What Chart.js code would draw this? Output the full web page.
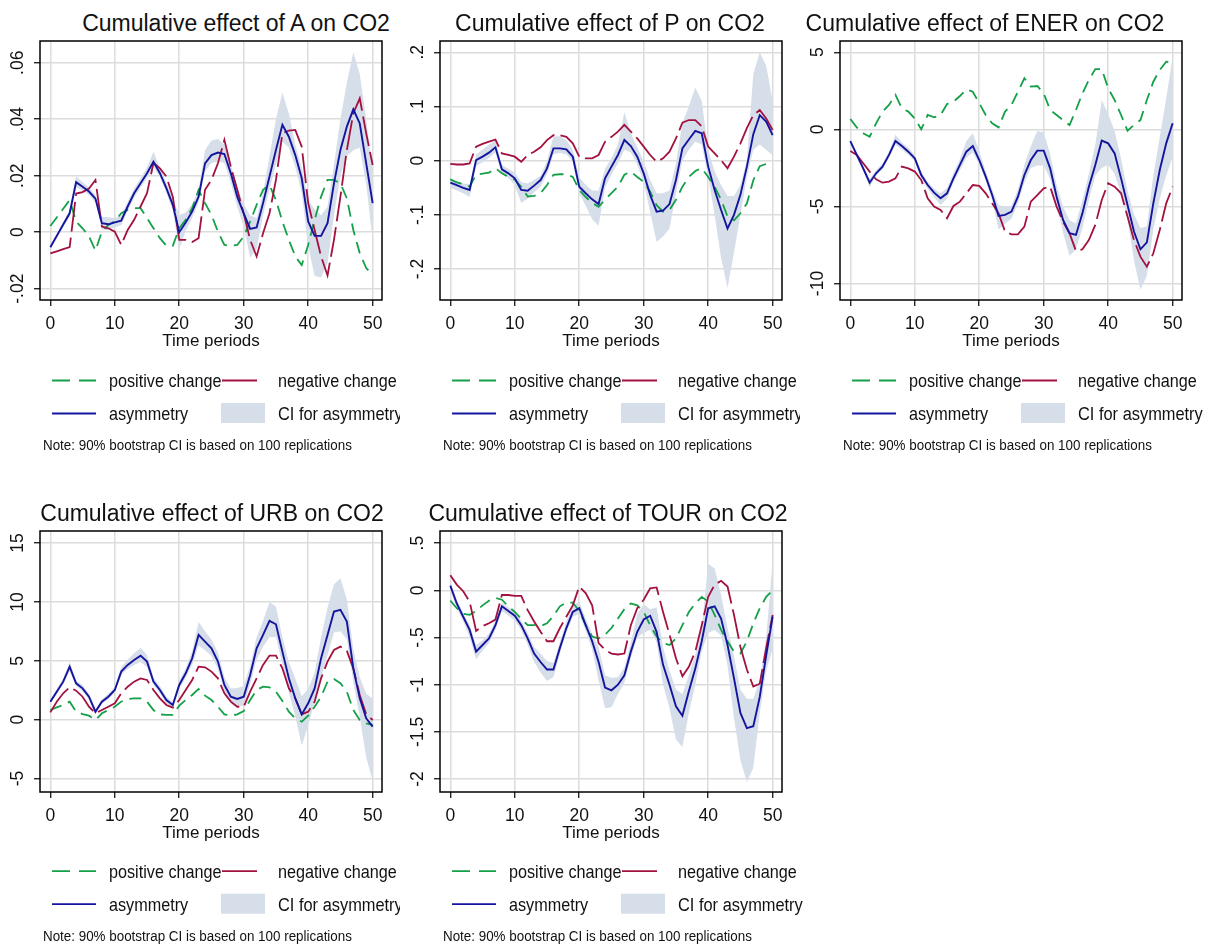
<!DOCTYPE html>
<html>
<head>
<meta charset="utf-8">
<script src="https://cdn.jsdelivr.net/npm/chart.js@4.4.1/dist/chart.umd.min.js"></script>
<style>
  body { margin: 0; background: #fff; width: 1215px; height: 951px; position: relative; overflow: hidden;
         font-family: 'Liberation Sans', Arial, sans-serif; color: #111; }
  .panel { position: absolute; top: 0; height: 951px; }
  .txt { position: absolute; white-space: nowrap; line-height: 1; }
  canvas { position: absolute; }
  svg { position: absolute; left: 0; top: 0; overflow: visible; }
</style>
</head>
<body>
<script>
// periodos (eje x)
const periods = [0,1,2,3,4,5,6,7,8,9,10,11,12,13,14,15,16,17,18,19,20,21,22,23,24,25,26,27,28,29,30,31,32,33,34,35,36,37,38,39,40,41,42,43,44,45,46,47,48,49,50];
const xTicks = [0, 10, 20, 30, 40, 50];

// --- A ---
const yTicksA = [-0.02, 0, 0.02, 0.04, 0.06];
const yLabelsA = ['-.02', '0', '.02', '.04', '.06'];
const posA = [0.0022,0.0052,0.0083,0.0114,0.0038,0.0014,-0.0015,-0.0065,0.0002,0.0026,
  0.0038,0.0067,0.0079,0.0085,0.0085,0.005,0.0014,-0.0021,-0.0048,-0.0048,
  0.0014,0.0044,0.0085,0.015,0.0103,0.0061,0.0002,-0.0045,-0.0048,-0.0045,
  -0.0015,0.0038,0.0097,0.015,0.0167,0.0114,0.0038,-0.0027,-0.0086,-0.0116,
  -0.0045,0.0044,0.0126,0.0185,0.0185,0.0173,0.012,0.0008,-0.0074,-0.0127,-0.015];
const negA = [-0.0075,-0.0068,-0.006,-0.0053,0.0137,0.0142,0.0155,0.0185,0.002,0.0014,
  0.0002,-0.0045,0.0008,0.0044,0.0091,0.0138,0.0245,0.0226,0.0197,0.0126,
  -0.0027,-0.0027,-0.0035,-0.0021,0.015,0.0185,0.0244,0.0327,0.0232,0.015,
  0.0067,-0.0027,-0.0086,-0.0004,0.0067,0.0185,0.035,0.036,0.0362,0.0303,
  0.0103,0.0008,-0.0086,-0.0153,-0.0027,0.0126,0.0291,0.0421,0.0474,0.035,0.0238];
const asymA = [-0.0053,-0.0013,0.0027,0.0067,0.0177,0.0161,0.0144,0.0119,0.0032,0.0028,
  0.0035,0.0041,0.0091,0.0138,0.0173,0.0209,0.025,0.0209,0.0156,0.0097,
  0.0,0.0034,0.0073,0.0126,0.0244,0.0273,0.0282,0.0277,0.0209,0.0126,
  0.0067,0.0012,0.0017,0.0103,0.0197,0.0291,0.038,0.0338,0.0273,0.0191,
  0.0038,-0.0013,-0.0013,0.0032,0.0173,0.0291,0.0374,0.0435,0.0385,0.0244,0.0103];
const ciLoA = [-0.006,-0.0022,0.0018,0.0056,0.016,0.0148,0.0132,0.0104,0.001,0.0008,
  0.0018,0.0025,0.0075,0.0122,0.0158,0.0192,0.0232,0.0195,0.014,0.0075,
  -0.006,0.0005,0.005,0.0105,0.0215,0.0245,0.025,0.0245,0.0175,0.009,
  0.002,-0.009,-0.006,0.006,0.015,0.024,0.032,0.03,0.023,0.014,
  -0.005,-0.0155,-0.016,-0.011,0.006,0.02,0.027,0.029,0.03,0.017,-0.0027];
const ciHiA = [-0.0045,-0.0005,0.0036,0.008,0.0197,0.0178,0.0158,0.0132,0.0055,0.0053,
  0.005,0.0058,0.0108,0.0155,0.019,0.023,0.0285,0.023,0.0175,0.012,
  0.006,0.007,0.01,0.015,0.029,0.0325,0.033,0.031,0.024,0.016,
  0.01,0.006,0.005,0.014,0.027,0.04,0.0495,0.042,0.031,0.023,
  0.0115,0.008,0.006,0.009,0.024,0.04,0.053,0.0637,0.056,0.04,0.022];

// --- P ---
const yTicksP = [-0.2, -0.1, 0, 0.1, 0.2];
const yLabelsP = ['-.2', '-.1', '0', '.1', '.2'];
const posP = [-0.0345,-0.04,-0.043,-0.048,-0.026,-0.024,-0.022,-0.014,-0.023,-0.03,
  -0.035,-0.048,-0.066,-0.065,-0.06,-0.045,-0.026,-0.025,-0.025,-0.03,
  -0.054,-0.067,-0.078,-0.085,-0.072,-0.06,-0.048,-0.026,-0.02,-0.03,
  -0.039,-0.057,-0.082,-0.094,-0.091,-0.072,-0.048,-0.03,-0.019,-0.014,
  -0.03,-0.048,-0.072,-0.103,-0.11,-0.097,-0.079,-0.036,-0.01,-0.006,-0.01];
const negP = [-0.006,-0.007,-0.007,-0.005,0.026,0.031,0.035,0.039,0.0135,0.0105,
  0.0074,-0.002,0.0105,0.0166,0.0246,0.038,0.047,0.047,0.044,0.032,
  0.0074,0.0043,0.0043,0.0105,0.035,0.044,0.0535,0.066,0.0535,0.041,
  0.026,0.0105,-0.002,0.0043,0.0166,0.041,0.07,0.075,0.075,0.063,
  0.026,0.0135,0.001,-0.014,0.0074,0.032,0.06,0.084,0.0935,0.078,0.0566];
const asymP = [-0.0406,-0.045,-0.05,-0.054,0.001,0.0074,0.0148,0.0246,-0.016,-0.0234,
  -0.0326,-0.054,-0.0554,-0.046,-0.0357,-0.0142,0.0228,0.0228,0.021,0.0074,
  -0.048,-0.06,-0.0714,-0.08,-0.0326,-0.011,0.0105,0.0382,0.027,0.0074,
  -0.0234,-0.063,-0.094,-0.092,-0.08,-0.0357,0.0228,0.039,0.055,0.0505,
  -0.011,-0.054,-0.091,-0.125,-0.1,-0.063,-0.011,0.049,0.084,0.072,0.047];
const ciLoP = [-0.05,-0.055,-0.06,-0.067,-0.01,-0.003,0.005,0.015,-0.025,-0.032,
  -0.045,-0.078,-0.07,-0.058,-0.048,-0.025,0.012,0.014,0.012,-0.002,
  -0.06,-0.083,-0.108,-0.12,-0.05,-0.025,-0.005,0.02,0.015,-0.008,
  -0.04,-0.095,-0.15,-0.14,-0.125,-0.06,0.0,0.02,0.035,0.03,
  -0.03,-0.1,-0.18,-0.235,-0.17,-0.1,-0.03,0.02,0.03,0.02,0.01];
const ciHiP = [-0.035,-0.038,-0.042,-0.043,0.012,0.02,0.03,0.037,-0.008,-0.015,
  -0.022,-0.04,-0.042,-0.035,-0.028,0.0,0.045,0.045,0.038,0.02,
  -0.03,-0.045,-0.055,-0.055,-0.015,0.005,0.03,0.09,0.05,0.025,
  -0.002,-0.035,-0.06,-0.06,-0.055,-0.005,0.07,0.1,0.135,0.11,
  0.02,-0.02,-0.045,-0.065,-0.065,-0.045,0.0,0.16,0.2,0.175,0.11];

// --- ENER ---
const yTicksE = [-10, -5, 0, 5];
const yLabelsE = ['-10', '-5', '0', '5'];
const posE = [0.67,0.13,-0.26,-0.48,0.39,1.15,1.58,2.23,1.36,1.15,
  0.71,0.0,0.93,0.78,0.93,1.64,1.79,2.16,2.59,2.44,
  1.69,0.93,0.39,0.13,1.15,1.58,2.44,3.31,2.77,2.81,
  2.33,1.25,0.93,0.6,0.28,1.25,2.33,3.2,3.91,3.91,
  2.66,1.9,0.93,-0.09,0.28,0.6,1.9,3.09,3.85,4.39,4.32];
const negE = [-1.4,-1.66,-2.2,-2.74,-3.24,-3.46,-3.39,-3.18,-2.42,-2.53,
  -2.74,-3.29,-4.47,-5.01,-5.23,-5.77,-4.97,-4.69,-4.15,-3.61,
  -3.67,-4.15,-4.8,-5.45,-6.63,-6.81,-6.81,-6.31,-4.69,-4.26,
  -3.83,-3.72,-5.01,-5.99,-6.74,-7.89,-7.78,-7.18,-6.2,-4.58,
  -3.5,-3.72,-4.15,-5.66,-7.18,-8.26,-8.91,-8.04,-6.53,-4.8,-3.72];
const asymE = [-0.76,-1.66,-2.53,-3.46,-2.85,-2.42,-1.66,-0.76,-1.08,-1.45,
  -1.88,-2.96,-3.61,-4.11,-4.47,-4.15,-3.18,-2.31,-1.45,-1.08,
  -1.99,-3.07,-4.26,-5.62,-5.55,-5.34,-4.37,-2.96,-1.99,-1.38,
  -1.38,-2.53,-4.37,-5.88,-6.74,-6.85,-5.45,-3.72,-2.31,-0.73,
  -0.91,-1.56,-3.18,-4.91,-6.63,-7.78,-7.33,-4.8,-2.64,-0.91,0.39];
const ciLoE = [-0.85,-1.8,-2.7,-3.75,-3.0,-2.6,-1.85,-1.0,-1.3,-1.65,
  -2.05,-3.2,-3.85,-4.4,-4.9,-4.5,-3.45,-2.65,-1.85,-1.5,
  -2.3,-3.3,-4.6,-6.5,-6.1,-5.8,-4.8,-3.45,-2.5,-2.35,
  -2.35,-3.2,-4.8,-6.7,-8.2,-7.8,-6.4,-4.6,-3.0,-2.5,
  -2.3,-2.9,-4.2,-5.8,-8.5,-10.4,-9.5,-6.5,-4.5,-3.0,-1.8];
const ciHiE = [-0.65,-1.5,-2.35,-3.2,-2.65,-2.2,-1.45,-0.35,-0.85,-1.2,
  -1.7,-2.7,-3.4,-3.85,-4.15,-3.8,-2.85,-1.9,-0.75,-0.25,
  -1.4,-2.7,-3.9,-4.9,-5.0,-4.95,-3.9,-2.3,-1.1,-0.1,
  -0.2,-1.6,-3.6,-5.0,-5.9,-6.1,-4.6,-2.9,-1.0,1.9,
  1.0,-0.1,-1.9,-4.0,-5.5,-6.4,-6.3,-3.0,-0.5,2.0,4.7];

// --- URB ---
const yTicksU = [-5, 0, 5, 10, 15];
const yLabelsU = ['-5', '0', '5', '10', '15'];
const posU = [0.82,1.05,1.25,1.53,0.68,0.48,0.34,-0.03,0.54,0.82,
  1.1,1.53,1.76,1.81,1.81,1.53,0.82,0.45,0.4,0.4,
  1.19,1.67,2.1,2.61,2.04,1.67,1.1,0.45,0.34,0.45,
  0.74,1.67,2.52,2.8,2.75,2.38,1.59,0.68,0.11,-0.17,
  0.34,1.1,1.95,3.23,3.46,3.09,2.38,0.82,-0.03,-0.31,-0.45];
const negU = [0.62,1.53,2.24,2.75,2.46,1.95,1.1,0.54,0.82,1.1,
  1.39,2.24,2.8,3.23,3.51,3.37,2.52,1.81,1.25,1.02,
  1.67,2.52,3.37,4.5,4.45,4.08,3.51,2.24,1.53,1.1,
  1.1,2.38,3.51,4.65,5.44,5.44,4.36,2.66,1.81,0.45,
  0.68,1.53,3.51,4.93,5.92,6.2,5.84,4.36,2.1,0.45,-0.03];
const asymU = [1.53,2.38,3.23,4.5,3.09,2.66,1.95,0.68,1.53,1.95,
  2.52,4.08,4.65,5.07,5.44,4.93,3.23,2.52,1.67,1.25,
  2.95,3.94,5.21,7.2,6.63,6.06,4.93,2.95,1.95,1.76,
  1.95,3.8,6.06,7.2,8.39,8.1,5.78,3.51,1.81,0.45,
  1.39,2.66,5.21,7.2,9.18,9.32,8.33,4.36,1.81,0.11,-0.59];
const ciLoU = [1.35,2.2,3.0,4.1,2.85,2.4,1.7,0.45,1.35,1.75,
  2.3,3.8,4.3,4.65,4.9,4.45,2.95,2.25,1.4,1.0,
  2.6,3.55,4.65,6.3,5.9,5.4,4.3,2.45,1.4,1.1,
  1.2,3.0,5.1,6.2,7.0,7.0,4.7,2.3,0.3,-2.2,
  -0.5,1.5,3.5,5.5,7.4,7.5,6.8,3.2,0.2,-3.2,-5.2];
const ciHiU = [1.7,2.6,3.5,4.9,3.35,2.95,2.2,0.9,1.75,2.2,
  2.75,4.45,5.1,5.65,6.1,5.5,3.55,2.85,1.95,1.5,
  3.3,4.35,5.8,8.3,7.5,6.8,5.7,3.6,2.65,2.7,
  2.85,4.6,7.0,8.4,10.0,9.6,7.0,4.9,3.5,2.0,
  2.6,4.0,7.0,9.5,11.5,12.0,10.2,6.0,3.6,2.2,1.8];

// --- TOUR ---
const yTicksT = [-2, -1.5, -1, -0.5, 0, 0.5];
const yLabelsT = ['-2', '-1.5', '-1', '-.5', '0', '.5'];
const posT = [-0.11,-0.19,-0.25,-0.26,-0.22,-0.16,-0.11,-0.08,-0.1,-0.17,
  -0.23,-0.3,-0.37,-0.37,-0.38,-0.35,-0.27,-0.17,-0.13,-0.13,
  -0.22,-0.37,-0.49,-0.51,-0.47,-0.4,-0.3,-0.2,-0.14,-0.16,
  -0.23,-0.37,-0.49,-0.56,-0.58,-0.51,-0.37,-0.23,-0.14,-0.07,
  -0.12,-0.26,-0.42,-0.54,-0.65,-0.67,-0.54,-0.35,-0.19,-0.07,0.0];
const negT = [0.16,0.06,-0.01,-0.12,-0.43,-0.38,-0.35,-0.31,-0.05,-0.05,
  -0.06,-0.06,-0.21,-0.33,-0.44,-0.54,-0.54,-0.4,-0.28,-0.16,
  0.04,-0.03,-0.16,-0.56,-0.63,-0.67,-0.68,-0.67,-0.37,-0.19,
  -0.1,0.02,0.03,-0.23,-0.47,-0.72,-0.91,-0.81,-0.65,-0.37,
  -0.07,0.06,0.1,0.04,-0.26,-0.6,-0.84,-1.02,-0.99,-0.61,-0.26];
const asymT = [0.05,-0.14,-0.28,-0.42,-0.65,-0.58,-0.51,-0.37,-0.17,-0.22,
  -0.27,-0.37,-0.51,-0.67,-0.76,-0.84,-0.84,-0.61,-0.4,-0.23,
  -0.19,-0.37,-0.54,-0.76,-1.03,-1.06,-1.0,-0.9,-0.65,-0.44,
  -0.31,-0.27,-0.44,-0.79,-1.0,-1.23,-1.33,-1.07,-0.83,-0.54,
  -0.19,-0.17,-0.3,-0.58,-0.93,-1.3,-1.46,-1.44,-1.13,-0.69,-0.28];
const ciLoT = [0.0,-0.19,-0.33,-0.5,-0.73,-0.64,-0.56,-0.42,-0.22,-0.27,
  -0.32,-0.42,-0.58,-0.76,-0.87,-0.96,-0.92,-0.67,-0.45,-0.28,
  -0.25,-0.43,-0.63,-0.95,-1.25,-1.24,-1.1,-0.98,-0.72,-0.5,
  -0.45,-0.42,-0.55,-1.0,-1.25,-1.58,-1.66,-1.3,-1.0,-0.65,
  -0.45,-0.42,-0.48,-0.8,-1.35,-1.8,-2.03,-1.88,-1.3,-0.85,-0.62];
const ciHiT = [0.09,-0.1,-0.24,-0.37,-0.58,-0.53,-0.46,-0.32,-0.13,-0.18,
  -0.23,-0.32,-0.45,-0.6,-0.67,-0.75,-0.77,-0.55,-0.33,-0.17,
  -0.12,-0.3,-0.46,-0.6,-0.9,-0.93,-0.92,-0.82,-0.55,-0.25,
  -0.15,-0.2,-0.18,-0.6,-0.85,-1.05,-1.1,-0.9,-0.68,-0.4,
  0.28,0.23,-0.05,-0.4,-0.7,-1.05,-1.15,-1.15,-0.95,-0.5,0.31];

const FONT = "'Liberation Sans', Arial, sans-serif";
const GREEN = '#14a048';
const RED = '#a3113e';
const BLUE = '#14149e';
const CI_FILL = '#d6deea';
const GRID = '#dcdcdc';

// filas: borde superior/inferior del área del gráfico y línea base del título
const rows = [
  { top: 41, bottom: 300, titleBase: 31.7, dy: 0 },
  { top: 531, bottom: 792, titleBase: 521.7, dy: 490.7 }
];

const panels = [
  { title: 'Cumulative effect of A on CO2', pos: posA, neg: negA, asym: asymA, lo: ciLoA, hi: ciHiA,
    yTicks: yTicksA, yLabels: yLabelsA, yMin: -0.024, yMax: 0.0677, x0: 0, row: 0, titleX: 236, clipW: 400 },
  { title: 'Cumulative effect of P on CO2', pos: posP, neg: negP, asym: asymP, lo: ciLoP, hi: ciHiP,
    yTicks: yTicksP, yLabels: yLabelsP, yMin: -0.257, yMax: 0.2208, x0: 400, row: 0, titleX: 210, clipW: 400 },
  { title: 'Cumulative effect of ENER on CO2', pos: posE, neg: negE, asym: asymE, lo: ciLoE, hi: ciHiE,
    yTicks: yTicksE, yLabels: yLabelsE, yMin: -11.07, yMax: 5.73, x0: 800, row: 0, titleX: 185, clipW: 415 },
  { title: 'Cumulative effect of URB on CO2', pos: posU, neg: negU, asym: asymU, lo: ciLoU, hi: ciHiU,
    yTicks: yTicksU, yLabels: yLabelsU, yMin: -6.14, yMax: 16.02, x0: 0, row: 1, titleX: 212, clipW: 400 },
  { title: 'Cumulative effect of TOUR on CO2', pos: posT, neg: negT, asym: asymT, lo: ciLoT, hi: ciHiT,
    yTicks: yTicksT, yLabels: yLabelsT, yMin: -2.137, yMax: 0.628, x0: 400, row: 1, titleX: 208, clipW: 415 }
];

// texto posicionado por su línea base
function addText(parent, text, left, baseline, size, center, stretch) {
  const d = document.createElement('div');
  d.className = 'txt';
  d.textContent = text;
  d.style.fontSize = size + 'px';
  d.style.top = (baseline - 0.8465 * size) + 'px';
  if (center) {
    d.style.left = (left - 300) + 'px';
    d.style.width = '600px';
    d.style.textAlign = 'center';
  } else {
    d.style.left = left + 'px';
  }
  if (stretch) {
    d.style.transformOrigin = '0 ' + (0.8465 * size) + 'px';
    d.style.transform = 'scaleY(' + stretch + ')';
  }
  parent.appendChild(d);
  return d;
}

function addLegend(parent, dy) {
  const ns = 'http://www.w3.org/2000/svg';
  const svg = document.createElementNS(ns, 'svg');
  svg.setAttribute('width', '400');
  svg.setAttribute('height', '951');
  const line = (x1, x2, y, color, dash) => {
    const l = document.createElementNS(ns, 'line');
    l.setAttribute('x1', x1); l.setAttribute('x2', x2);
    l.setAttribute('y1', y); l.setAttribute('y2', y);
    l.setAttribute('stroke', color); l.setAttribute('stroke-width', '1.8');
    if (dash) l.setAttribute('stroke-dasharray', dash);
    svg.appendChild(l);
  };
  line(52, 96, 380.5 + dy, GREEN, '18 9');
  line(222, 257, 380.5 + dy, RED);
  line(52, 96, 413.5 + dy, BLUE);
  const r = document.createElementNS(ns, 'rect');
  r.setAttribute('x', 221); r.setAttribute('y', 403 + dy);
  r.setAttribute('width', 44); r.setAttribute('height', 20);
  r.setAttribute('fill', CI_FILL);
  svg.appendChild(r);
  parent.appendChild(svg);

  addText(parent, 'positive change', 109, 386.7 + dy, 16.2, false, 1.1);
  addText(parent, 'negative change', 278, 386.7 + dy, 16.2, false, 1.1);
  addText(parent, 'asymmetry', 109, 420 + dy, 16.2, false, 1.1);
  addText(parent, 'CI for asymmetry', 278, 420 + dy, 16.4, false, 1.1);
  addText(parent, 'Note: 90% bootstrap CI is based on 100 replications', 43, 450.7 + dy, 13.4, false, 1.08);
}

function framePlugin(labels) {
  return {
    id: 'frame',
    afterDraw(chart) {
      const { ctx, chartArea: a } = chart;
      ctx.save();
      ctx.strokeStyle = '#000';
      ctx.lineWidth = 1.5;
      ctx.strokeRect(a.left, a.top, a.right - a.left, a.bottom - a.top);
      // etiquetas del eje y giradas como en Stata
      const ys = chart.scales.y;
      ctx.fillStyle = '#111';
      ctx.font = '17.5px ' + FONT;
      ctx.textAlign = 'center';
      ctx.textBaseline = 'middle';
      ys.ticks.forEach((t, i) => {
        const py = ys.getPixelForValue(t.value);
        ctx.save();
        ctx.translate(18.5, py);
        ctx.rotate(-Math.PI / 2);
        ctx.fillText(labels[i], 0, 0);
        ctx.restore();
      });
      ctx.restore();
    }
  };
}

function renderPanel(p) {
  const row = rows[p.row];
  const box = document.createElement('div');
  box.className = 'panel';
  box.style.left = p.x0 + 'px';
  box.style.width = p.clipW + 'px';
  box.style.overflow = 'hidden';
  document.body.appendChild(box);

  addText(box, p.title, p.titleX, row.titleBase, 23, true);

  const canvas = document.createElement('canvas');
  const h = 6 + (row.bottom - row.top) + 60;
  canvas.width = 400;
  canvas.height = h;
  canvas.style.left = '0px';
  canvas.style.top = (row.top - 6) + 'px';
  canvas.style.width = '400px';
  canvas.style.height = h + 'px';
  box.appendChild(canvas);

  addLegend(box, row.dy);

  const gridOpts = { color: GRID, lineWidth: 1.5, tickColor: '#000', tickLength: 6, tickWidth: 1.2 };

  new Chart(canvas.getContext('2d'), {
    type: 'line',
    data: {
      labels: periods,
      datasets: [
        { label: 'asymmetry', data: p.asym, borderColor: BLUE, borderWidth: 1.9 },
        { label: 'negative change', data: p.neg, borderColor: RED, borderWidth: 1.8, borderDash: [30, 6] },
        { label: 'positive change', data: p.pos, borderColor: GREEN, borderWidth: 1.8, borderDash: [12, 7] },
        { label: 'CI low', data: p.lo, borderColor: 'rgba(0,0,0,0)', borderWidth: 0, fill: false },
        { label: 'CI for asymmetry', data: p.hi, borderColor: 'rgba(0,0,0,0)', borderWidth: 0,
          backgroundColor: CI_FILL, fill: 3 }
      ]
    },
    options: {
      responsive: false,
      animation: false,
      devicePixelRatio: 1,
      layout: { padding: { top: 6, right: 18, left: 0, bottom: 0 } },
      elements: { point: { radius: 0 }, line: { tension: 0 } },
      plugins: { legend: { display: false }, tooltip: { enabled: false } },
      scales: {
        x: {
          type: 'linear', min: -1.6, max: 51.45,
          afterBuildTicks: (s) => { s.ticks = xTicks.map(v => ({ value: v })); },
          afterFit: (s) => { s.height = 60; },
          grid: gridOpts,
          border: { display: false },
          ticks: { color: '#111', font: { family: FONT, size: 17.5 }, padding: 8, maxRotation: 0, autoSkip: false },
          title: { display: true, text: 'Time periods', color: '#111', font: { family: FONT, size: 17 },
                   padding: { top: 0, bottom: 8 } }
        },
        y: {
          type: 'linear', min: p.yMin, max: p.yMax,
          afterBuildTicks: (s) => { s.ticks = p.yTicks.map(v => ({ value: v })); },
          afterFit: (s) => { s.width = 40; },
          grid: gridOpts,
          border: { display: false },
          ticks: { display: false }
        }
      }
    },
    plugins: [framePlugin(p.yLabels)]
  });
}

panels.forEach(renderPanel);
</script>
</body>
</html>
